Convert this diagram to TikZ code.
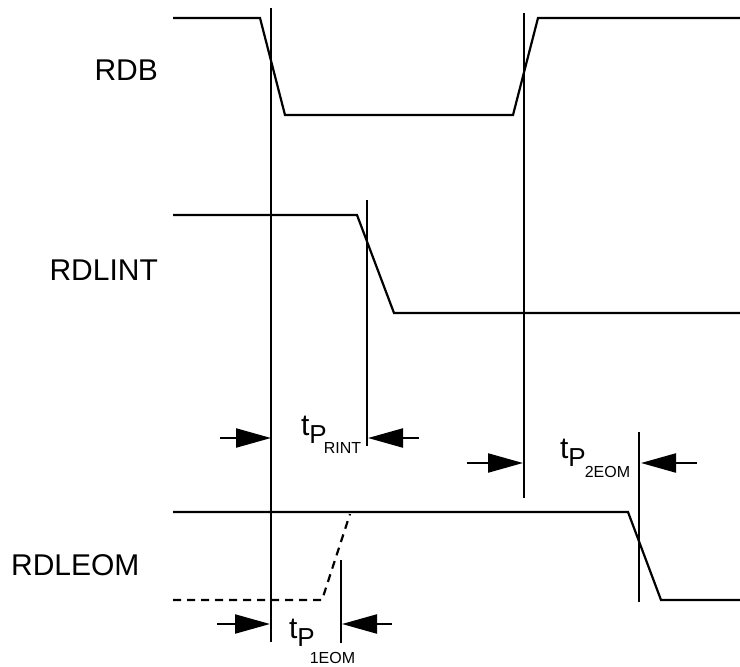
\documentclass[tikz,border=0pt]{standalone}
\usepackage{fontspec}
\setmainfont{Liberation Sans}
\usetikzlibrary{arrows.meta}
% t_P with a subscript: #1 text, #2 kern, #3 drop of the subscript
\newcommand{\tpd}[3]{t\raisebox{-8.5pt}{\fontsize{26}{30}\selectfont P}\kern#2\raisebox{#3}{\fontsize{16}{16}\selectfont #1}}

\begin{document}
\begin{tikzpicture}[x=1pt,y=-1pt,line width=2.2pt,>={Triangle[length=35pt,width=19pt]},
  wave/.style={line join=miter},
  lbl/.style={inner sep=0pt,font=\fontsize{30}{36}\selectfont},
  tl/.style={inner sep=0pt,anchor=base west,font=\fontsize{30}{34}\selectfont}]
  \useasboundingbox (0,0) rectangle (740,667);
  % signal names
  \node[lbl,anchor=base east](rdb) at (159,80.5){RDB};
  \node[lbl,anchor=base east](rdlint) at (159,280){RDLINT};
  \node[lbl,anchor=base west](rdleom) at (10,575){RDLEOM};
  % waveforms
  \draw[wave](173,18)--(260,18)--(285,115)--(513,115)--(538,18)--(740,18);
  \draw[wave](173,215)--(357,215)--(394,313)--(740,313);
  \draw[wave](173,512)--(628,512)--(661,600)--(740,600);
  \draw[wave,dashed,dash pattern=on 8pt off 6pt](173,600)--(322,600)--(350,514);
  % reference lines
  \coordinate (v1t) at (271,8);   \coordinate (v1b) at (271,642);
  \coordinate (v2t) at (524,13);  \coordinate (v2b) at (524,498);
  \coordinate (v3t) at (367,200); \coordinate (v3b) at (367,446);
  \coordinate (v4t) at (639,432); \coordinate (v4b) at (639,602);
  \coordinate (v5t) at (341,560); \coordinate (v5b) at (341,643);
  \draw(v1t)--(v1b);\draw(v2t)--(v2b);\draw(v3t)--(v3b);\draw(v4t)--(v4b);\draw(v5t)--(v5b);
  % timing arrows
  \coordinate (a1) at (220,438); \coordinate (a1e) at (271,438);
  \coordinate (a2) at (419,438); \coordinate (a2e) at (368,438);
  \coordinate (a3) at (467,463); \coordinate (a3e) at (523,463);
  \coordinate (a4) at (697,463); \coordinate (a4e) at (641,463);
  \coordinate (a5) at (217,624); \coordinate (a5e) at (270,624);
  \coordinate (a6) at (392,624); \coordinate (a6e) at (342,624);
  \draw[->](a1)--(a1e);\draw[->](a2)--(a2e);
  \draw[->](a3)--(a3e);\draw[->](a4)--(a4e);
  \draw[->](a5)--(a5e);\draw[->](a6)--(a6e);
  % timing labels
  \node[tl](trint) at (300,435){\tpd{RINT}{-3pt}{-18pt}};
  \node[tl](t2eom) at (559,458){\tpd{2EOM}{-1pt}{-19pt}};
  \node[tl](t1eom) at (288,638){\tpd{1EOM}{-5pt}{-25pt}};
\end{tikzpicture}
\end{document}
